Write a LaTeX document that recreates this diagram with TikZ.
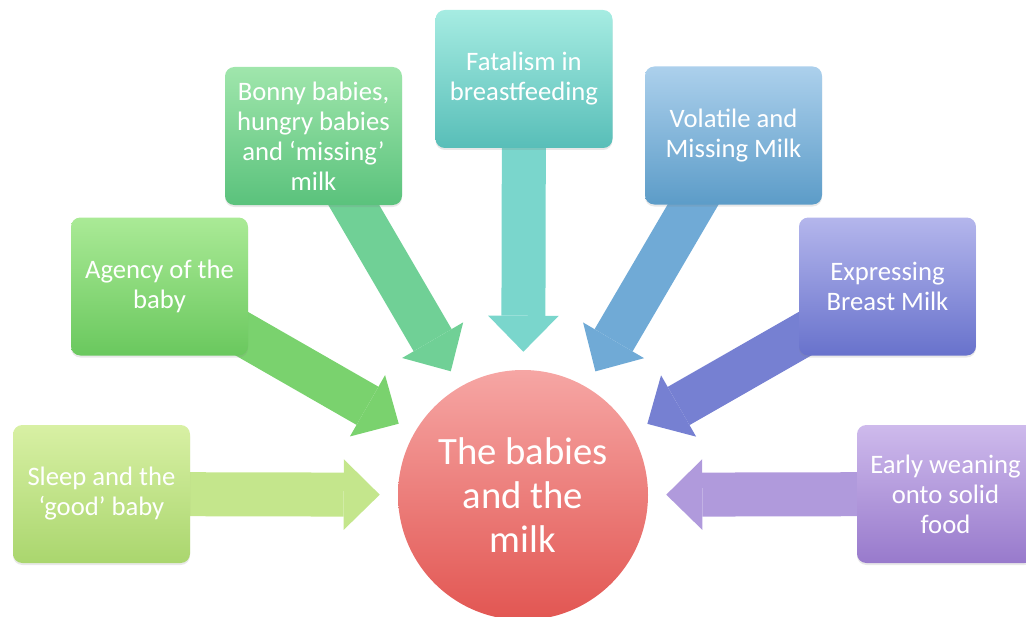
\documentclass[tikz,border=0pt]{standalone}
\usepackage{fontspec}
\setmainfont{Carlito}
\usetikzlibrary{arrows.meta,shadows}
\pgfdeclarelayer{background}
\pgfsetlayers{background,main}
\definecolor{sleepT}{RGB}{216,240,164}\definecolor{sleepB}{RGB}{170,214,110}\definecolor{sleepA}{RGB}{196,230,140}
\definecolor{agT}{RGB}{170,234,150}\definecolor{agB}{RGB}{106,200,94}\definecolor{agA}{RGB}{122,210,110}
\definecolor{boT}{RGB}{160,230,172}\definecolor{boB}{RGB}{90,194,124}\definecolor{boA}{RGB}{112,208,150}
\definecolor{faT}{RGB}{166,236,226}\definecolor{faB}{RGB}{88,190,184}\definecolor{faA}{RGB}{122,214,204}
\definecolor{voT}{RGB}{172,208,236}\definecolor{voB}{RGB}{92,156,200}\definecolor{voA}{RGB}{112,170,214}
\definecolor{exT}{RGB}{180,182,236}\definecolor{exB}{RGB}{104,114,204}\definecolor{exA}{RGB}{118,128,210}
\definecolor{eaT}{RGB}{206,186,236}\definecolor{eaB}{RGB}{152,122,204}\definecolor{eaA}{RGB}{176,154,220}
\definecolor{ciT}{RGB}{246,166,164}\definecolor{ciB}{RGB}{226,86,82}
\tikzset{
  topic/.style={rounded corners=7pt, minimum width=132.75pt, minimum height=103.5pt,
    inner sep=2pt, align=center, text=white, font=\fontsize{20}{22.5}\selectfont,
    drop shadow={opacity=0.18, shadow xshift=0pt, shadow yshift=-1.5pt}},
  hub/.style={circle, minimum size=187.5pt, inner sep=0pt, align=center, text=white,
    font=\fontsize{29}{33}\selectfont, top color=ciT, bottom color=ciB},
  barrow/.style={line width=33pt, shorten >=13.5pt,
    -{Triangle[length=27pt, width=53pt, line width=0pt]}}
}
\begin{document}
\begin{tikzpicture}[x=0.75pt, y=-0.75pt]
\useasboundingbox (0,0) rectangle (1026,617);
\node[topic, top color=sleepT, bottom color=sleepB] (sleep) at (101.5,494) {Sleep and the\\‘good’ baby};
\node[topic, top color=agT, bottom color=agB] (agency) at (159.5,286.5) {Agency of the\\baby};
\node[topic, top color=boT, bottom color=boB] (bonny) at (313.5,136) {Bonny babies,\\hungry babies\\and ‘missing’\\milk};
\node[topic, top color=faT, bottom color=faB] (fatal) at (524,79) {Fatalism in\\breastfeeding};
\node[topic, top color=voT, bottom color=voB] (volat) at (733.5,135.5) {Volatile and\\Missing Milk};
\node[topic, top color=exT, bottom color=exB] (expr) at (887.5,286.5) {Expressing\\Breast Milk};
\node[topic, top color=eaT, bottom color=eaB] (early) at (945.5,494) {Early weaning\\onto solid\\food};
\node[hub] (milk) at (523,495) {The babies\\and the\\milk};
\begin{pgfonlayer}{background}
\draw[barrow, sleepA] (sleep.center) -- (milk);
\draw[barrow, agA] (agency.center) -- (milk);
\draw[barrow, boA] (bonny.center) -- (milk);
\draw[barrow, faA] (fatal.center) -- (milk);
\draw[barrow, voA] (volat.center) -- (milk);
\draw[barrow, exA] (expr.center) -- (milk);
\draw[barrow, eaA] (early.center) -- (milk);
\end{pgfonlayer}
\end{tikzpicture}
\end{document}
